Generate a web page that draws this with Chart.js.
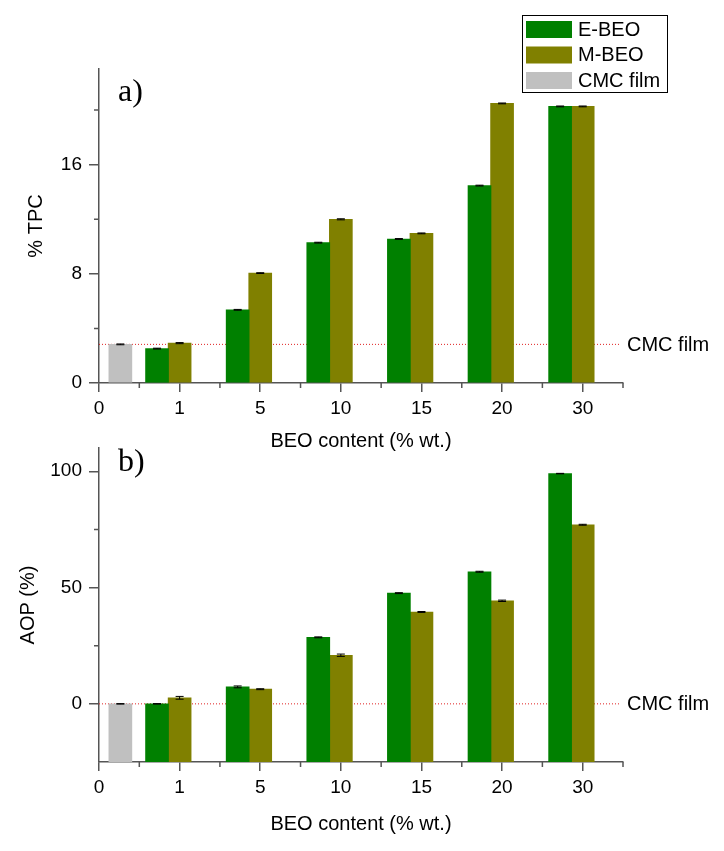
<!DOCTYPE html>
<html>
<head>
<meta charset="utf-8">
<script src="https://cdn.jsdelivr.net/npm/chart.js@4.4.1/dist/chart.umd.min.js"></script>
<style>
  body { margin: 0; background: #fff; }
  #wrap { position: relative; width: 724px; height: 851px; }
  canvas { position: absolute; left: 0; }
  #tpcChart { top: 0; }
  #aopChart { top: 425px; }
</style>
</head>
<body>
<div id="wrap">
  <canvas id="tpcChart" width="724" height="460"></canvas>
  <canvas id="aopChart" width="724" height="426"></canvas>
</div>
<script>
// x axis tick labels (BEO content, % wt.) and the bar categories
const tickLabels = ['0', '1', '5', '10', '15', '20', '30'];
const beoContent = ['1', '5', '10', '15', '20', '30'];

// a) total phenolic content
const tpcE = [2.52, 5.36, 10.28, 10.55, 14.46, 20.26];
const tpcM = [2.92, 8.05, 11.99, 10.96, 20.48, 20.26];
const tpcCMC = 2.83;
const tpcErrE = [0.03, 0.03, 0.03, 0.03, 0.03, 0.03];
const tpcErrM = [0.04, 0.03, 0.04, 0.03, 0.03, 0.03];
const tpcErrCMC = 0.03;

// b) antioxidant power
const aopE = [0.0, 7.3, 28.6, 47.6, 56.8, 99.0];
const aopM = [2.6, 6.3, 20.9, 39.5, 44.3, 77.0];
const aopCMC = 0;
const aopErrE = [0.1, 0.4, 0.2, 0.2, 0.2, 0.1];
const aopErrM = [0.6, 0.2, 0.5, 0.2, 0.3, 0.2];
const aopErrCMC = 0.1;

const FONT = '"Liberation Sans", Arial, sans-serif';
const axisColor = '#555';
const greenCol = '#008000';
const oliveCol = '#808000';
const greyCol = '#c0c0c0';
const pairShift = 0.28;   // E-BEO bar sits left of the tick
const cmcPos = 0.265;

Chart.defaults.font.family = FONT;
Chart.defaults.color = '#000';

const extras = {
  id: 'extras',
  beforeDatasetsDraw(chart, args, o) {
    const {ctx, chartArea: a, scales: {y}} = chart;
    const yy = y.getPixelForValue(o.cmc);
    ctx.save();
    ctx.strokeStyle = '#e02020';
    ctx.lineWidth = 1;
    ctx.setLineDash([1, 2]);
    ctx.beginPath();
    ctx.moveTo(a.left, yy);
    ctx.lineTo(a.right - 4, yy);
    ctx.stroke();
    ctx.restore();
  },
  afterDatasetsDraw(chart, args, o) {
    const {ctx, chartArea: a, scales: {x, y}} = chart;
    ctx.save();
    // error bars
    ctx.strokeStyle = '#000';
    ctx.lineWidth = 1;
    chart.data.datasets.forEach((ds, di) => {
      chart.getDatasetMeta(di).data.forEach((bar, i) => {
        const v = ds.data[i].y, e = ds.err[i];
        const y1 = y.getPixelForValue(v + e), y2 = y.getPixelForValue(v - e);
        ctx.beginPath();
        ctx.moveTo(bar.x - 4, y1); ctx.lineTo(bar.x + 4, y1);
        ctx.moveTo(bar.x - 4, y2); ctx.lineTo(bar.x + 4, y2);
        ctx.moveTo(bar.x, y1); ctx.lineTo(bar.x, y2);
        ctx.stroke();
      });
    });

    // minor ticks
    ctx.strokeStyle = axisColor;
    ctx.lineWidth = 1.5;
    ctx.beginPath();
    for (let v = 0.5; v <= x.max + 1e-9; v += 1) {
      const px = x.getPixelForValue(v);
      ctx.moveTo(px, a.bottom); ctx.lineTo(px, a.bottom + 5);
    }
    for (let v = o.step / 2; v < y.max; v += o.step) {
      if (v <= y.min) continue;
      const py = y.getPixelForValue(v);
      ctx.moveTo(a.left - 5, py); ctx.lineTo(a.left, py);
    }
    ctx.stroke();

    // CMC film reference label
    ctx.fillStyle = '#000';
    ctx.font = '20px ' + FONT;
    ctx.textAlign = 'left';
    ctx.textBaseline = 'middle';
    ctx.fillText('CMC film', a.right + 4, y.getPixelForValue(o.cmc) + 1);

    // panel letter
    ctx.font = '32px "Liberation Serif", "Times New Roman", serif';
    ctx.fillText(o.panel, a.left + 19, a.top + o.panelDy);

    // boxed legend
    if (o.legend) {
      ctx.strokeStyle = '#000';
      ctx.lineWidth = 1;
      ctx.strokeRect(522.5, 15.5, 145, 77);
      ctx.font = '20px ' + FONT;
      chart.data.datasets.forEach((ds, i) => {
        const top = 21 + i * 25.5;
        ctx.fillStyle = ds.backgroundColor;
        ctx.fillRect(526, top, 46, 17);
        ctx.fillStyle = '#000';
        ctx.fillText(ds.label, 578, top + 9);
      });
    }
    ctx.restore();
  }
};

function makeChart(id, c) {
  const dsE = beoContent.map((b, i) => ({x: tickLabels.indexOf(b) - pairShift, y: c.e[i]}));
  const dsM = beoContent.map((b, i) => ({x: tickLabels.indexOf(b), y: c.m[i]}));
  return new Chart(document.getElementById(id), {
    type: 'bar',
    data: {
      datasets: [
        {label: 'E-BEO', data: dsE, err: c.errE, backgroundColor: greenCol},
        {label: 'M-BEO', data: dsM, err: c.errM, backgroundColor: oliveCol},
        {label: 'CMC film', data: [{x: cmcPos, y: c.cmc}], err: [c.errC], backgroundColor: greyCol}
      ]
    },
    options: {
      responsive: false,
      animation: false,
      devicePixelRatio: 1,
      layout: {padding: {top: c.padTop, right: 101, left: 0, bottom: 0}},
      datasets: {bar: {grouped: false, barThickness: 23, base: c.min}},
      scales: {
        x: {
          type: 'linear', min: 0, max: 6.5, offset: false,
          afterFit: s => { s.height = c.xHeight; },
          grid: {offset: false, drawOnChartArea: false, tickLength: 9, color: axisColor, lineWidth: 1.5},
          border: {color: axisColor, width: 1.5},
          ticks: {
            stepSize: 1, includeBounds: false, autoSkip: false, maxRotation: 0, padding: 5,
            font: {size: 19},
            callback: v => Number.isInteger(v) ? tickLabels[v] : ''
          },
          title: {display: true, text: 'BEO content (% wt.)', font: {size: 20}, padding: {top: 0, bottom: c.xTitlePad}}
        },
        y: {
          min: c.min, max: c.max,
          afterFit: s => { s.width = 99; },
          grid: {drawOnChartArea: false, tickLength: 10, color: axisColor, lineWidth: 1.5},
          border: {color: axisColor, width: 1.5},
          ticks: {stepSize: c.step, includeBounds: false, padding: 7, font: {size: 19}},
          title: {display: true, text: c.yTitle, font: {size: 20}, padding: {top: c.yTitlePad, bottom: 0}}
        }
      },
      plugins: {
        legend: {display: false},
        tooltip: {enabled: false},
        extras: {cmc: c.cmc, step: c.step, panel: c.panel, panelDy: c.panelDy, legend: c.legend}
      }
    },
    plugins: [extras]
  });
}

makeChart('tpcChart', {
  e: tpcE, m: tpcM, cmc: tpcCMC, errE: tpcErrE, errM: tpcErrM, errC: tpcErrCMC,
  min: 0, max: 23, step: 8, yTitle: '% TPC', panel: 'a)', panelDy: 24, legend: true,
  padTop: 69, xHeight: 77, xTitlePad: 7, yTitlePad: 24
});

makeChart('aopChart', {
  e: aopE, m: aopM, cmc: aopCMC, errE: aopErrE, errM: aopErrM, errC: aopErrCMC,
  min: -25, max: 110, step: 50, yTitle: 'AOP (%)', panel: 'b)', panelDy: 15, legend: false,
  padTop: 23, xHeight: 89, xTitlePad: 15, yTitlePad: 16
});
</script>
</body>
</html>
